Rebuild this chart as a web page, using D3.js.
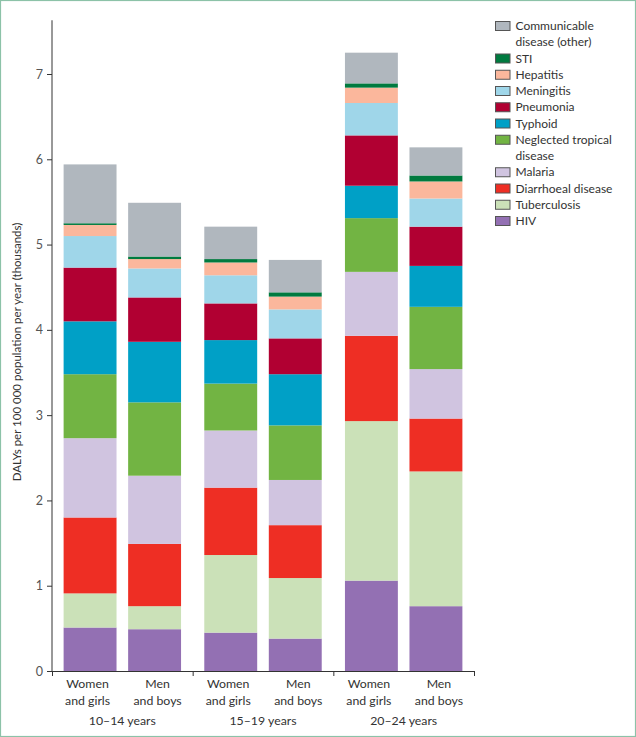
<!DOCTYPE html>
<html>
<head>
<meta charset="utf-8">
<script src="https://cdn.jsdelivr.net/npm/d3@7"></script>
<style>
  html, body { margin: 0; padding: 0; background: #fff; }
  svg { display: block; }
  text { font-family: Lato, "Open Sans", sans-serif; }
</style>
</head>
<body>
<div id="chart"></div>
<script>
// ---- data ----
const groups = ["10–14 years", "15–19 years", "20–24 years"];
const sexes = [["Women", "and girls"], ["Men", "and boys"]];
const seriesNames = ["HIV", "Tuberculosis", "Diarrhoeal disease", "Malaria",
  "Neglected tropical disease", "Typhoid", "Pneumonia", "Meningitis",
  "Hepatitis", "STI", "Communicable disease (other)"];
// values per bar: [W 10-14, M 10-14, W 15-19, M 15-19, W 20-24, M 20-24] (thousands)
const hiv        = [0.51, 0.49, 0.45, 0.38, 1.06, 0.76];
const tb         = [0.40, 0.27, 0.91, 0.71, 1.87, 1.58];
const diarrhoeal = [0.89, 0.73, 0.79, 0.62, 1.00, 0.62];
const malaria    = [0.93, 0.80, 0.67, 0.53, 0.75, 0.58];
const ntd        = [0.75, 0.86, 0.55, 0.64, 0.63, 0.73];
const typhoid    = [0.62, 0.71, 0.51, 0.60, 0.38, 0.48];
const pneumonia  = [0.63, 0.52, 0.43, 0.42, 0.59, 0.46];
const meningitis = [0.37, 0.34, 0.33, 0.34, 0.38, 0.33];
const hepatitis  = [0.13, 0.11, 0.15, 0.15, 0.18, 0.20];
const sti        = [0.02, 0.03, 0.04, 0.05, 0.05, 0.07];
const other      = [0.69, 0.63, 0.38, 0.38, 0.36, 0.33];
const yTicks = [0, 1, 2, 3, 4, 5, 6, 7];
const legendLines = [
  ["Communicable", "disease (other)"], ["STI"], ["Hepatitis"], ["Meningitis"],
  ["Pneumonia"], ["Typhoid"], ["Neglected tropical", "disease"], ["Malaria"],
  ["Diarrhoeal disease"], ["Tuberculosis"], ["HIV"]
];
const legendKeys = ["Communicable disease (other)", "STI", "Hepatitis", "Meningitis",
  "Pneumonia", "Typhoid", "Neglected tropical disease", "Malaria",
  "Diarrhoeal disease", "Tuberculosis", "HIV"];

const seriesValues = [hiv, tb, diarrhoeal, malaria, ntd, typhoid, pneumonia, meningitis, hepatitis, sti, other];
const colors = ["#9370b3", "#cbe1b8", "#ee2e24", "#d0c4e0", "#72b443", "#00a0c6",
  "#b10032", "#9fd6e9", "#fbb79c", "#007a3f", "#b0b7be"];

// build table
const rows = [];
groups.forEach((g, gi) => sexes.forEach((s, si) => {
  const idx = gi * 2 + si;
  const r = { group: g, sex: s.join(" ") };
  seriesNames.forEach((n, k) => r[n] = seriesValues[k][idx]);
  rows.push(r);
}));

const W = 636, H = 737;
const svg = d3.select("#chart").append("svg").attr("width", W).attr("height", H);
svg.append("rect").attr("x", 0.5).attr("y", 0.5).attr("width", W - 1).attr("height", H - 1)
  .attr("fill", "#fff").attr("stroke", "#8cc2a8").attr("stroke-width", 1.2);

const x0 = 52, x1 = 474, yBase = 671;
const y = d3.scaleLinear().domain([0, 7]).range([yBase, 74]);
const xGroup = d3.scaleBand().domain(groups).range([x0, x1]).padding(0);
const xSex = d3.scaleBand().domain(sexes.map(s => s.join(" ")))
  .range([0, xGroup.bandwidth()]).paddingInner(0.18).paddingOuter(0.18);
const color = d3.scaleOrdinal().domain(seriesNames).range(colors);

const stack = d3.stack().keys(seriesNames);
const stacked = stack(rows);

const gBars = svg.append("g");
stacked.forEach(layer => {
  gBars.append("g").attr("fill", color(layer.key))
    .selectAll("rect").data(layer).join("rect")
    .attr("x", d => xGroup(d.data.group) + xSex(d.data.sex))
    .attr("width", xSex.bandwidth())
    .attr("y", d => y(d[1]))
    .attr("height", d => y(d[0]) - y(d[1]));
});

// y axis
const axisColor = "#333";
const yAxis = svg.append("g").attr("transform", `translate(${x0},0)`)
  .call(d3.axisLeft(y).tickValues(yTicks).tickSize(5).tickPadding(4).tickFormat(d3.format("d")));
yAxis.select(".domain").remove();
yAxis.selectAll(".tick line").attr("stroke", axisColor);
yAxis.selectAll(".tick text").attr("fill", "#555").style("font-size", "12.5px").style("font-family", "Lato");
svg.append("line").attr("x1", x0).attr("x2", x0).attr("y1", y(7.63)).attr("y2", yBase + 0.5)
  .attr("stroke", axisColor).attr("stroke-width", 1);

// x axis with boundary ticks
const xb = d3.scaleLinear().domain([0, groups.length]).range([x0, x1]);
const xAxis = svg.append("g").attr("transform", `translate(0,${yBase})`)
  .call(d3.axisBottom(xb).tickValues([0, 1, 2, 3]).tickSize(5).tickSizeOuter(0).tickFormat(""));
xAxis.select(".domain").attr("stroke", axisColor);
xAxis.selectAll(".tick line").attr("stroke", axisColor);

// x labels
rows.forEach((r, i) => {
  const cx = xGroup(r.group) + xSex(r.sex) + xSex.bandwidth() / 2 + (i % 2 === 0 ? -2.5 : 3);
  const lines = sexes[i % 2];
  lines.forEach((t, li) => {
    svg.append("text").attr("x", cx).attr("y", 688 + li * 17)
      .attr("text-anchor", "middle").attr("fill", "#333").style("font-size", "12.3px").text(t);
  });
});
groups.forEach(g => {
  svg.append("text").attr("x", xGroup(g) + xGroup.bandwidth() / 2).attr("y", 725)
    .attr("text-anchor", "middle").attr("fill", "#333").style("font-size", "12.3px").text(g);
});

// y label
svg.append("text").attr("transform", `translate(21,${352}) rotate(-90)`)
  .attr("text-anchor", "middle").attr("fill", "#333").style("font-size", "11.5px")
  .text("DALYs per 100 000 population per year (thousands)");

// legend
const lg = svg.append("g");
let line = 0;
const lx = 495.5, step = 16.25, ly0 = 26;
legendKeys.forEach((k, i) => {
  const cy = ly0 + line * step;
  lg.append("rect").attr("x", lx).attr("y", cy - 4.5).attr("width", 14.5).attr("height", 9)
    .attr("fill", color(k)).attr("stroke", "#555").attr("stroke-width", 1);
  legendLines[i].forEach((t, li) => {
    lg.append("text").attr("x", 515.5).attr("y", cy + li * step).attr("dy", "0.35em")
      .attr("fill", "#333").style("font-size", "12px").text(t);
  });
  line += legendLines[i].length;
});
</script>
</body>
</html>
